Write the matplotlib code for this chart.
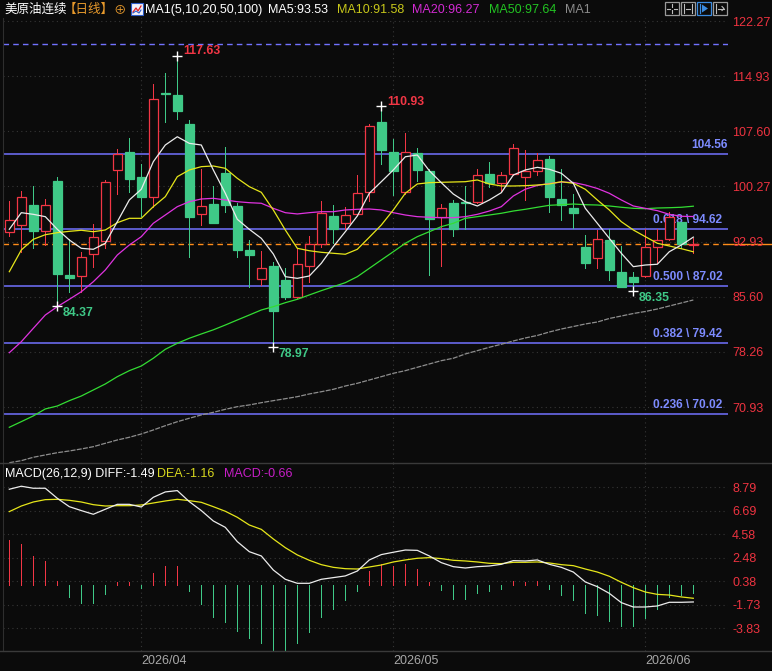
import matplotlib.pyplot as plt
from matplotlib.patches import Rectangle, Polygon
from matplotlib.lines import Line2D

plt.switch_backend('agg')
plt.rcParams['font.family'] = ['Liberation Sans', 'Noto Sans CJK SC', 'DejaVu Sans']

# ---- daily bars, 58 sessions (mid Mar 2026 -> 5 Jun 2026) ----
opens = [94.17, 95.10, 97.80, 94.30, 100.99, 88.49, 88.32, 91.25, 92.97, 102.42,
         104.81, 101.52, 98.83, 112.70, 112.39, 108.53, 96.57, 97.93, 102.02, 97.67,
         91.82, 87.92, 89.69, 87.83, 85.61, 89.73, 92.66, 96.34, 95.45, 96.61,
         99.57, 108.84, 104.85, 99.57, 104.68, 102.32, 96.17, 98.07, 98.20, 98.24,
         101.88, 100.73, 101.88, 101.49, 102.36, 103.92, 98.60, 97.40, 92.22, 90.79,
         93.15, 88.89, 88.27, 88.32, 92.26, 93.24, 95.54, 92.44]
highs = [98.33, 99.62, 100.37, 98.56, 101.52, 93.28, 91.59, 95.27, 101.13, 105.25,
         106.71, 103.25, 113.89, 115.40, 117.63, 109.11, 102.59, 100.33, 105.51, 98.03,
         93.15, 91.68, 90.18, 89.42, 92.12, 93.68, 98.33, 97.80, 97.50, 101.79,
         108.57, 110.93, 106.62, 107.34, 105.34, 102.55, 97.97, 98.47, 100.33, 102.59,
         103.48, 102.19, 105.91, 105.12, 104.68, 104.36, 102.59, 99.26, 93.81, 94.48,
         94.57, 92.35, 88.89, 94.57, 94.57, 96.87, 95.54, 93.37]
lows = [93.72, 91.55, 92.04, 92.48, 84.37, 86.27, 86.27, 89.52, 92.04, 99.30,
        99.57, 96.38, 97.58, 108.88, 109.20, 90.93, 95.18, 95.45, 96.91, 90.93,
        86.94, 87.16, 78.97, 85.34, 85.47, 87.60, 92.26, 92.71, 94.57, 96.47,
        98.33, 103.25, 99.13, 99.30, 100.99, 88.49, 89.69, 93.72, 94.57, 98.03,
        100.24, 99.70, 101.79, 98.47, 101.79, 96.91, 95.81, 94.70, 89.38, 89.38,
        87.83, 86.94, 86.35, 88.20, 90.05, 93.10, 92.04, 91.46]
closes = [95.81, 98.83, 94.38, 97.76, 88.67, 88.13, 90.93, 93.51, 100.90, 104.62,
          101.30, 98.83, 111.86, 112.52, 110.26, 96.25, 97.71, 95.45, 97.84, 91.86,
          91.19, 89.38, 83.75, 85.61, 89.92, 92.58, 96.70, 94.57, 96.43, 99.36,
          108.27, 105.12, 102.36, 104.81, 102.46, 95.94, 97.36, 94.57, 98.11, 101.75,
          100.73, 101.75, 105.38, 102.32, 103.75, 98.91, 97.84, 96.78, 90.13, 93.24,
          89.20, 86.94, 87.60, 92.22, 93.11, 96.17, 92.66, 92.58]

# moving averages as drawn on the chart
ma5 = [94.57, 96.78, 96.56, 96.25, 94.57, 93.15, 92.04, 91.91, 92.71, 95.58,
       98.47, 99.89, 103.56, 105.78, 106.88, 106.00, 105.78, 102.46, 99.36, 95.90,
       94.57, 93.37, 91.29, 88.27, 88.05, 88.36, 90.05, 92.26, 94.25, 96.34,
       99.36, 100.90, 102.46, 104.22, 104.45, 102.36, 100.77, 99.26, 98.24, 97.67,
       98.47, 99.44, 101.79, 102.46, 102.81, 102.55, 102.02, 100.69, 97.36, 95.37,
       93.37, 91.38, 89.60, 89.82, 89.92, 91.59, 92.48, 93.53]
ma10 = [88.93, 91.82, 93.24, 93.85, 94.12, 94.30, 94.44, 94.25, 94.48, 95.45,
        96.03, 96.03, 97.58, 98.91, 101.57, 102.46, 102.90, 102.99, 102.68, 101.35,
        100.24, 99.49, 97.14, 94.48, 92.04, 91.72, 91.51, 91.38, 91.25, 91.91,
        93.51, 95.14, 97.14, 99.36, 100.60, 100.77, 100.82, 100.86, 100.90, 101.13,
        100.60, 100.33, 100.33, 100.37, 100.46, 100.60, 100.90, 100.69, 99.89, 98.47,
        97.14, 95.58, 94.48, 93.59, 92.71, 92.35, 91.99, 91.58]
ma20 = [78.16, 79.62, 81.40, 83.17, 84.28, 85.26, 86.27, 87.60, 89.16, 91.15,
        92.48, 93.59, 95.37, 96.47, 97.58, 98.24, 98.60, 98.69, 98.47, 98.24,
        98.11, 98.03, 97.36, 96.78, 96.61, 96.78, 96.91, 96.91, 97.14, 97.23,
        97.27, 97.14, 96.78, 96.47, 96.25, 96.17, 96.11, 96.11, 96.25, 96.56,
        97.00, 97.58, 99.00, 99.90, 100.40, 100.65, 100.85, 100.80, 100.46, 100.00,
        99.36, 98.47, 97.67, 97.36, 97.05, 96.56, 96.30, 96.27]
ma50 = [68.24, 68.99, 69.75, 70.68, 71.07, 71.78, 72.40, 73.20, 74.00, 74.97,
        75.77, 76.39, 77.42, 78.61, 79.41, 80.08, 80.65, 81.20, 81.84, 82.51,
        83.17, 83.84, 84.28, 84.81, 85.26, 85.84, 86.41, 86.94, 87.47, 88.27,
        89.38, 90.49, 91.59, 92.71, 93.59, 94.25, 94.92, 95.37, 96.03, 96.25,
        96.47, 96.70, 97.00, 97.23, 97.50, 97.76, 97.84, 97.93, 97.84, 97.80,
        97.67, 97.50, 97.36, 97.31, 97.40, 97.44, 97.50, 97.64]
ma100 = [63.53, 63.80, 64.25, 64.56, 64.86, 65.09, 65.36, 65.66, 66.11, 66.55,
         66.91, 67.35, 67.88, 68.45, 68.98, 69.44, 69.88, 70.23, 70.63, 70.98,
         71.21, 71.51, 71.78, 72.04, 72.31, 72.67, 72.97, 73.29, 73.73, 74.09,
         74.53, 74.97, 75.42, 75.77, 76.22, 76.66, 77.10, 77.42, 77.99, 78.43,
         78.88, 79.28, 79.72, 80.12, 80.45, 80.91, 81.31, 81.64, 81.98, 82.24,
         82.71, 83.04, 83.37, 83.64, 83.97, 84.37, 84.77, 85.17]

# MACD(26,12,9)
diff = [8.60, 8.87, 8.69, 8.69, 7.79, 7.04, 6.69, 6.36, 6.81, 7.25,
        7.25, 7.01, 7.88, 8.36, 8.48, 7.49, 6.69, 5.76, 5.19, 3.91,
        3.01, 2.63, 1.37, 0.54, 0.18, 0.18, 0.54, 0.69, 0.84, 1.28,
        2.27, 2.75, 2.96, 3.16, 3.13, 2.63, 2.03, 1.67, 1.55, 1.67,
        1.73, 1.88, 2.21, 2.18, 2.27, 1.88, 1.61, 1.19, 0.30, -0.12,
        -0.72, -1.55, -1.94, -1.94, -1.85, -1.52, -1.52, -1.49]
dea = [6.60, 7.10, 7.46, 7.67, 7.70, 7.61, 7.46, 7.22, 7.10, 7.13,
       7.13, 7.19, 7.37, 7.55, 7.70, 7.58, 7.43, 7.04, 6.63, 6.09,
       5.40, 5.01, 4.15, 3.37, 2.72, 2.24, 1.85, 1.61, 1.49, 1.46,
       1.64, 1.82, 2.09, 2.27, 2.42, 2.48, 2.39, 2.24, 2.18, 2.09,
       1.97, 1.94, 2.06, 2.06, 2.09, 2.00, 1.85, 1.76, 1.46, 1.19,
       0.81, 0.27, -0.21, -0.60, -0.81, -0.87, -1.04, -1.16]
macd_hist = [4.06, 3.70, 2.63, 2.18, 0.39, -1.01, -1.55, -1.55, -0.75, 0.30,
             0.30, -0.21, 1.13, 1.73, 1.73, -0.51, -1.64, -2.81, -3.25, -4.06,
             -4.69, -5.13, -5.85, -5.85, -5.20, -4.18, -2.81, -2.12, -1.31, -0.48,
             1.28, 1.88, 1.73, 1.91, 1.46, 0.30, -0.42, -1.19, -1.19, -0.69,
             -0.48, -0.30, 0.39, 0.30, 0.39, -0.30, -0.87, -1.28, -2.45, -2.63,
             -3.16, -3.64, -3.61, -2.90, -2.09, -1.07, -0.87, -0.66]

price_ticks = [122.27, 114.93, 107.60, 100.27, 92.93, 85.60, 78.26, 70.93]
macd_ticks = [8.79, 6.69, 4.58, 2.48, 0.38, -1.73, -3.83]
month_pos = [11, 32, 53]
month_labels = ['2026/04', '2026/05', '2026/06']

fib_top = 119.22
fib_levels = [104.56, 94.62, 87.02, 79.42, 70.02]
fib_labels = ['104.56', '0.618 \\ 94.62', '0.500 \\ 87.02', '0.382 \\ 79.42', '0.236 \\ 70.02']

high_marks = [14, 31]
low_marks = [4, 22, 52]

# ---- style ----
W, H = 772, 671
BG = '#0b0b0b'
UP = '#f23645'
DN = '#3fc987'
AXIS_RED = '#ee3340'
GRID = '#363636'
FIB = '#7272ff'
FIB_TXT = '#7d8bff'
ORANGE = '#ff8c1a'
C_MA5, C_MA10, C_MA20, C_MA50, C_MA100 = '#ececec', '#e6e61a', '#e033e0', '#33dd33', '#8e8e8e'

fig = plt.figure(figsize=(W / 100, H / 100), dpi=100, facecolor=BG)
ax1 = fig.add_axes([3 / W, 208 / H, 725 / W, 445 / H], facecolor=BG)
ax2 = fig.add_axes([3 / W, 20 / H, 725 / W, 188 / H], facecolor=BG, sharex=ax1)

x = list(range(len(closes)))

# ---- price panel ----
for i in x:
    o, h, l, c = opens[i], highs[i], lows[i], closes[i]
    up = c >= o
    col = UP if up else DN
    ax1.vlines(i, l, h, color=col, lw=0.7, antialiased=False, zorder=3)
    ax1.add_patch(Rectangle((i - 0.35, min(o, c)), 0.70, max(abs(c - o), 0.12),
                            facecolor=BG if up else DN, edgecolor=col, lw=0.9, zorder=4))

ax1.plot(x, ma100, color=C_MA100, lw=0.9, ls=(0, (4, 1)), zorder=5)
ax1.plot(x, ma50, color=C_MA50, lw=0.9, zorder=5)
ax1.plot(x, ma20, color=C_MA20, lw=0.9, zorder=5)
ax1.plot(x, ma10, color=C_MA10, lw=0.9, zorder=5)
ax1.plot(x, ma5, color=C_MA5, lw=0.9, zorder=6)

# fibonacci levels
ax1.axhline(fib_top, color=FIB, lw=1.0, ls=(0, (4, 3)), zorder=2)
for lvl, lab in zip(fib_levels, fib_labels):
    ax1.axhline(lvl, color=FIB, lw=1.1, zorder=2)
    xr = 0.9995 if lab == '104.56' else 0.9925
    ax1.annotate(lab, (xr, lvl), xycoords=('axes fraction', 'data'), xytext=(0, 2),
                 textcoords='offset points', ha='right', va='bottom', color=FIB_TXT,
                 fontsize=8.6, fontweight='bold', zorder=2.5)

# last price line
ax1.axhline(closes[-1], color=ORANGE, lw=1.0, ls=(0, (4, 3)), zorder=2)
ax1.axhline(closes[-1], xmin=1.0, xmax=1.07, color=ORANGE, lw=1.0, clip_on=False, zorder=1)

# extreme marks
for i in high_marks:
    ax1.plot(i, highs[i], '+', color='white', ms=7, mew=1.0, zorder=7)
    ax1.annotate(f'{highs[i]:.2f}', (i, highs[i]), xytext=(4.2, -1), textcoords='offset points',
                 ha='left', va='bottom', color=UP, fontsize=8.8, fontweight='bold', zorder=7)
for i in low_marks:
    ax1.plot(i, lows[i], '+', color='white', ms=7, mew=1.0, zorder=7)
    ax1.annotate(f'{lows[i]:.2f}', (i, lows[i]), xytext=(3.6, -1), textcoords='offset points',
                 ha='left', va='top', color=DN, fontsize=8.8, fontweight='bold', zorder=7)

ax1.set_xlim(-0.525, 59.89)
ax1.set_ylim(63.49, 122.67)
ax1.set_yticks(price_ticks)
ax1.set_yticklabels([f'{v:.2f}' for v in price_ticks])
ax1.yaxis.tick_right()
ax1.tick_params(axis='y', length=0, pad=3, labelcolor=AXIS_RED, labelsize=9)
ax1.tick_params(axis='x', length=0, labelbottom=False)

# ---- MACD panel ----
hist_cols = [UP if v >= 0 else DN for v in macd_hist]
ax2.vlines(x, 0, macd_hist, colors=hist_cols, lw=0.7, antialiased=False, zorder=3)
ax2.plot(x, dea, color=C_MA10, lw=0.9, zorder=4)
ax2.plot(x, diff, color=C_MA5, lw=0.9, zorder=5)
ax2.set_ylim(-5.88, 10.95)
ax2.set_yticks(macd_ticks)
ax2.set_yticklabels([f'{v:.2f}' for v in macd_ticks])
ax2.yaxis.tick_right()
ax2.tick_params(axis='y', length=0, pad=3, labelcolor=AXIS_RED, labelsize=9)
ax2.set_xticks(month_pos)
ax2.set_xticklabels(month_labels, ha='left')
ax2.tick_params(axis='x', length=0, pad=3, labelcolor='#a8a8a8', labelsize=9)

for ax in (ax1, ax2):
    ax.grid(True, color=GRID, lw=0.8, ls=(0, (1, 3)), zorder=0)
    for s in ('top', 'right', 'bottom'):
        ax.spines[s].set_visible(False)
    ax.spines['left'].set_color('#2e2e2e')


def px(xp, yp):
    return xp / W, 1 - yp / H


def fig_line(xs, ys, **kw):
    fig.add_artist(Line2D([v / W for v in xs], [1 - v / H for v in ys],
                          transform=fig.transFigure, **kw))


def fig_rect(x0, y0, w, h, **kw):
    fig.add_artist(Rectangle((x0 / W, 1 - (y0 + h) / H), w / W, h / H,
                             transform=fig.transFigure, **kw))


# panel separators
fig_line([0, W], [463, 463], color='#3a3a3a', lw=1)
fig_line([0, W], [651, 651], color='#3a3a3a', lw=1)

# ---- headers ----
hy = 10
head = [(4, '美原油连续', 'white'), (64, '【日线】', '#e89a2c'), (113, '⊕', '#e89a2c'),
        (145, 'MA1(5,10,20,50,100)', 'white'), (268, 'MA5:93.53', 'white'),
        (337, 'MA10:91.58', '#c8c81a'), (412, 'MA20:96.27', '#d22ad2'),
        (489, 'MA50:97.64', '#22c422'), (565, 'MA1', '#8c8c8c')]
for xp, txt, col in head:
    fig.text(*px(xp, hy), txt, color=col, fontsize=9, va='center', ha='left')

# little chart icon in header
fig_rect(131, 3, 12, 12, facecolor='#f2f2fa', edgecolor='#2c5cc8', lw=0.8)
fig_line([133, 136, 138, 141], [12, 8, 11, 6], color='#e02020', lw=0.9)
fig_line([133, 136, 139, 141], [13, 11, 13, 10], color='#2c5cc8', lw=0.8)

# toolbar icons (top right)
for k, x0 in enumerate([665, 681, 697, 713]):
    edge = '#3b8be0' if k == 2 else '#9a9a9a'
    fig_rect(x0, 2, 14, 13, facecolor=BG, edgecolor=edge, lw=0.9)
fig_line([672, 672], [4, 7], color='#bdbdbd', lw=0.8)
fig_line([672, 672], [10, 13], color='#bdbdbd', lw=0.8)
fig_line([667, 670], [8.5, 8.5], color='#bdbdbd', lw=0.8)
fig_line([674, 677], [8.5, 8.5], color='#bdbdbd', lw=0.8)
fig_line([684, 684], [4, 13], color='#bdbdbd', lw=0.8)
fig_line([692, 692], [4, 13], color='#bdbdbd', lw=0.8)
fig_line([686, 690], [8.5, 8.5], color='#bdbdbd', lw=0.8)
fig_line([700, 700], [4, 13], color='#3b8be0', lw=0.9)
fig.add_artist(Polygon([px(702, 4.5), px(702, 12.5), px(708, 8.5)], closed=True,
                       transform=fig.transFigure, facecolor='#3b8be0', edgecolor='none'))
fig_line([716, 716], [4, 13], color='#bdbdbd', lw=0.8)
fig_line([718, 724], [8.5, 8.5], color='#bdbdbd', lw=0.8)
fig_line([722, 724, 722], [6.5, 8.5, 10.5], color='#bdbdbd', lw=0.8)

my = 474
for xp, txt, col in [(5, 'MACD(26,12,9) DIFF:-1.49', 'white'), (157, 'DEA:-1.16', '#d8d81e'),
                     (224, 'MACD:-0.66', '#c81ec8')]:
    fig.text(*px(xp, my), txt, color=col, fontsize=9, va='center', ha='left')

fig.savefig('out.png', dpi=100, facecolor=BG)
